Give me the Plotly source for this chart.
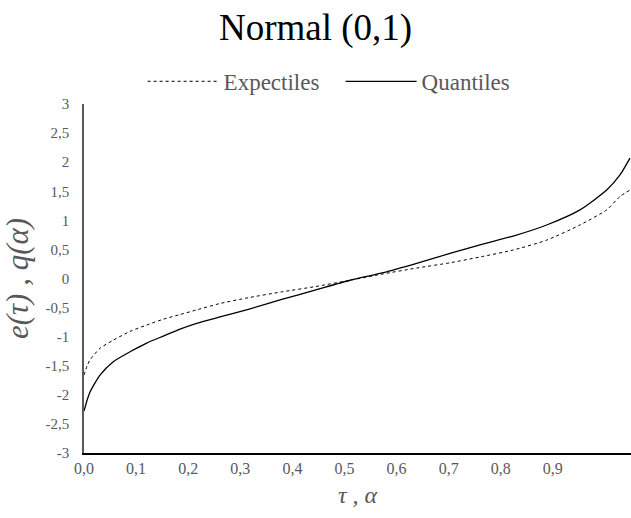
import plotly.graph_objects as go

# positions along the category axis (label units: 0,0 ... 0,9)
pos = [0.0, 0.006, 0.0115, 0.0307, 0.0562, 0.0883, 0.1203, 0.1522, 0.1843, 0.2163,
       0.2610, 0.3154, 0.3795, 0.4434, 0.5106, 0.5745, 0.6386, 0.7025, 0.7601,
       0.8240, 0.8881, 0.9520, 1.0033, 1.0288, 1.0480]

quantiles = [-2.28, -2.09, -1.95, -1.66, -1.43, -1.26, -1.11, -0.99, -0.87, -0.77,
             -0.66, -0.53, -0.36, -0.20, -0.03, 0.10, 0.26, 0.43, 0.58,
             0.73, 0.92, 1.18, 1.52, 1.78, 2.07]

expectiles = [-1.66, -1.50, -1.40, -1.20, -1.06, -0.91, -0.80, -0.70, -0.62, -0.54,
              -0.43, -0.33, -0.23, -0.14, -0.03, 0.08, 0.18, 0.27, 0.37,
              0.49, 0.66, 0.92, 1.18, 1.41, 1.52]

x_ticks = [0.0, 0.1, 0.2, 0.3, 0.4, 0.5, 0.6, 0.7, 0.8, 0.9]
x_tick_labels = ["0,0", "0,1", "0,2", "0,3", "0,4", "0,5", "0,6", "0,7", "0,8", "0,9"]
y_ticks = [3, 2.5, 2, 1.5, 1, 0.5, 0, -0.5, -1, -1.5, -2, -2.5, -3]
y_tick_labels = ["3", "2,5", "2", "1,5", "1", "0,5", "0", "-0,5", "-1", "-1,5", "-2", "-2,5", "-3"]

SERIF = "Liberation Serif, Times New Roman, serif"
GREY = "#595959"

fig = go.Figure()
fig.add_trace(go.Scatter(x=pos, y=expectiles, mode="lines", name="Expectiles",
                         line=dict(color="#000000", width=1, dash="dot",
                                   shape="spline", smoothing=0.6)))
fig.add_trace(go.Scatter(x=pos, y=quantiles, mode="lines", name="Quantiles",
                         line=dict(color="#000000", width=1.3,
                                   shape="spline", smoothing=0.6)))

fig.update_layout(
    width=631, height=518,
    paper_bgcolor="white", plot_bgcolor="white",
    margin=dict(l=84, r=0, t=104, b=65, autoexpand=False),
    font=dict(family=SERIF, color=GREY),
    title=dict(text="Normal (0,1)", x=0.5, xref="container", xanchor="center",
               y=0.947, yref="container", yanchor="middle",
               font=dict(family=SERIF, size=37, color="#000000")),
    legend=dict(orientation="h", xref="container", yref="container",
                x=0.226, xanchor="left", y=0.843, yanchor="middle",
                font=dict(family=SERIF, size=23, color=GREY),
                itemwidth=71, entrywidth=112, entrywidthmode="pixels",
                bgcolor="rgba(0,0,0,0)", tracegroupgap=0),
    showlegend=True,
)

fig.update_xaxes(range=[0, 1.05], tickvals=x_ticks, ticktext=x_tick_labels,
                 showgrid=False, zeroline=False, showline=True, automargin=False,
                 linecolor="#000000", linewidth=2, ticks="",
                 tickfont=dict(family=SERIF, size=16, color=GREY),
                 title=dict(text="<i>τ , α</i>", standoff=10,
                            font=dict(family=SERIF, size=24, color=GREY)))
fig.update_yaxes(range=[-3, 3], tickvals=y_ticks, ticktext=y_tick_labels,
                 showgrid=False, zeroline=False, showline=True, automargin=False,
                 linecolor=GREY, linewidth=1.5, ticks="",
                 ticklabelstandoff=10,
                 tickfont=dict(family=SERIF, size=15, color=GREY),
                 title=dict(text="<i>e(τ) , q(α)</i>", standoff=15,
                            font=dict(family=SERIF, size=31, color=GREY)))

fig.write_html("out.html", config={"displayModeBar": False},
               post_script="document.body.style.margin='0';document.body.style.overflow='hidden';")
